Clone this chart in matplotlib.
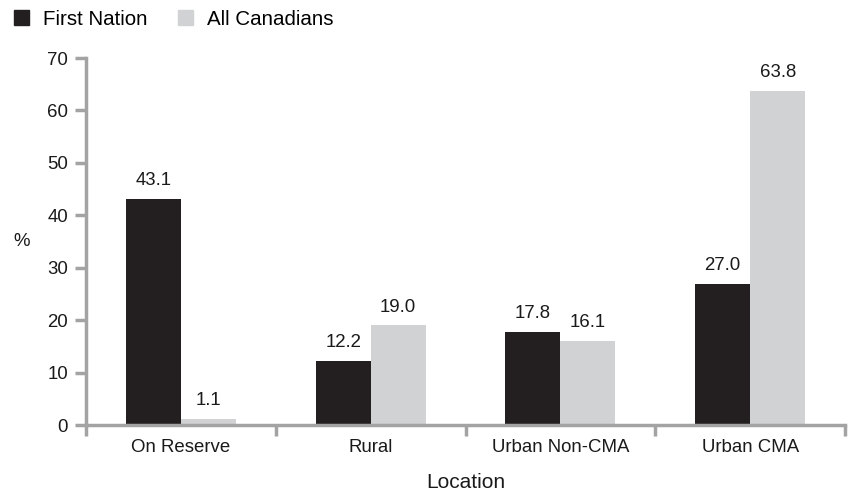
import matplotlib.pyplot as plt
import numpy as np
from matplotlib.patches import Patch

plt.rcParams['font.family'] = ['Liberation Sans', 'DejaVu Sans']

locations = ["On Reserve", "Rural", "Urban Non-CMA", "Urban CMA"]
first_nation = [43.1, 12.2, 17.8, 27.0]
all_canadians = [1.1, 19.0, 16.1, 63.8]

dark = "#231f20"
light = "#d1d2d4"
axis_grey = "#a3a3a3"
txt = "#1a1a1a"
fs = 13.4

fig = plt.figure(figsize=(8.49, 4.92), dpi=100)
ax = fig.add_axes([0.1013, 0.136, 0.894, 0.746])

x = np.arange(len(locations))
w = 0.29
b1 = ax.bar(x - w / 2, first_nation, w, color=dark)
b2 = ax.bar(x + w / 2, all_canadians, w, color=light)

# value labels above each bar
for bars, vals in ((b1, first_nation), (b2, all_canadians)):
    for b, v in zip(bars, vals):
        ax.text(b.get_x() + b.get_width() / 2, v + 1.9, f"{v:.1f}",
                ha="center", va="bottom", fontsize=fs, color=txt)

ax.set_xlim(-0.5, len(locations) - 0.5)
ax.set_ylim(0, 70)
ax.set_yticks(range(0, 71, 10))
ax.set_xticks(x)
ax.set_xticklabels(locations)
ax.set_xticks(np.arange(-0.5, len(locations), 1), minor=True)
ax.tick_params(axis="x", which="major", length=0, pad=10, labelsize=fs, labelcolor=txt)
ax.tick_params(axis="x", which="minor", length=8, width=2.5, color=axis_grey, direction="out")
ax.tick_params(axis="y", length=8, width=2.5, color=axis_grey, direction="out", labelsize=fs,
               labelcolor=txt, pad=5)

for s in ("top", "right"):
    ax.spines[s].set_visible(False)
for s in ("left", "bottom"):
    ax.spines[s].set_color(axis_grey)
    ax.spines[s].set_linewidth(2.5)

ax.set_xlabel("Location", fontsize=15, color=txt, labelpad=12)
ax.set_ylabel("%", fontsize=fs, color=txt, rotation=0, ha="center", va="center")
ax.yaxis.set_label_coords(-0.085, 0.5)

handles = [Patch(color=dark, label="First Nation"), Patch(color=light, label="All Canadians")]
fig.legend(handles=handles, loc="upper left", bbox_to_anchor=(14 / 849, 0.98), ncol=2, frameon=False,
           fontsize=14.8, handlelength=0.73, handleheight=0.73, columnspacing=1.5, handletextpad=0.68,
           borderpad=0, borderaxespad=0)

plt.savefig("out.png", dpi=100)
